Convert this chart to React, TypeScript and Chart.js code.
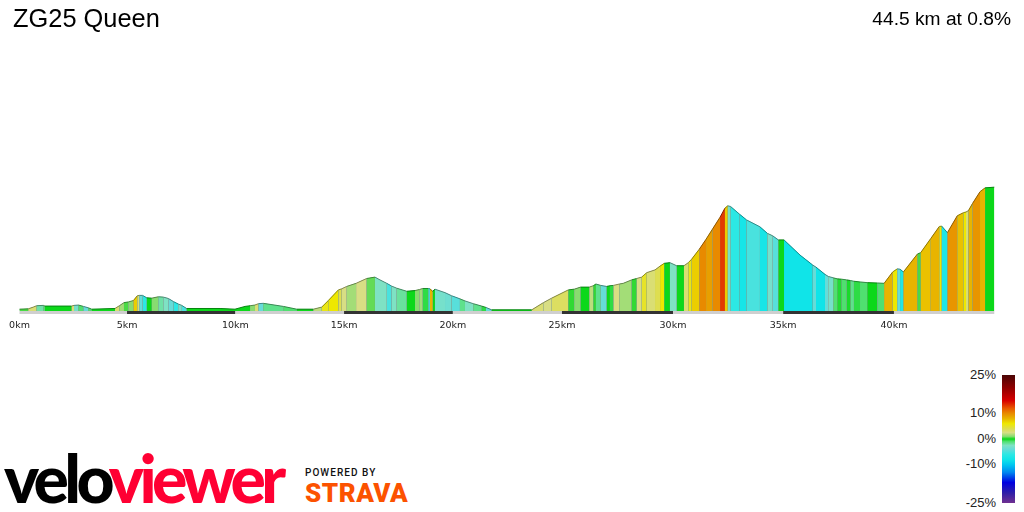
import React, { useEffect, useRef } from "react";
import { Chart, registerables } from "chart.js";

Chart.register(...registerables);

const titleText = "ZG25 Queen";
const summaryText = "44.5 km at 0.8%";

// Distance along the ride (km)
const distanceKm = [
  0, 0.4, 0.63, 0.78, 1.09, 1.16, 2.38, 2.49, 2.69, 2.92, 3.14, 3.3, 4.36, 4.56, 4.77, 4.97, 5.2, 5.38, 5.47, 5.62,
  5.81, 6.04, 6.34, 6.57, 6.8, 7.03, 7.25, 7.41, 7.63, 9.16, 9.84, 10.3, 10.53, 10.75, 10.91, 11.13, 12.05, 12.66,
  13.42, 13.8, 14.1, 14.56, 14.71, 14.94, 15.37, 15.85, 16.23, 16.46, 16.77, 16.99, 17.22, 17.68, 18.06, 18.26, 18.41,
  18.67, 18.74, 18.87, 18.97, 19.43, 19.73, 20.11, 20.34, 20.72, 21.1, 21.3, 21.56, 23.39, 23.92, 24.3, 25.06, 25.33,
  25.62, 26.02, 26.2, 26.32, 26.54, 26.81, 26.96, 27.12, 27.39, 27.57, 27.95, 28.18, 28.41, 28.64, 29.02, 29.25, 29.44,
  29.7, 30.01, 30.34, 30.54, 30.69, 31.04, 31.35, 31.65, 31.99, 32.21, 32.34, 32.47, 32.87, 33.2, 33.81, 34.15, 34.39,
  34.65, 34.91, 35.64, 36.22, 36.37, 36.78, 36.93, 37.16, 37.34, 37.54, 37.77, 37.95, 38.1, 38.38, 38.71, 39.17, 39.48,
  39.87, 40.08, 40.21, 40.36, 41.0, 41.15, 41.61, 42.0, 42.11, 42.37, 42.82, 43.1, 43.22, 43.33, 43.52, 43.86, 44.09,
  44.51,
];

// Height above the lowest point (m)
const elevationM = [
  5, 6, 11, 15, 16, 14, 14, 16, 17, 13, 9, 5, 7, 15, 24, 26, 30, 44, 45, 45, 38, 37, 41, 40, 36, 27, 20, 16, 7, 7, 5,
  13, 15, 17, 21, 22, 13, 5, 5, 11, 30, 61, 64, 71, 80, 94, 98, 90, 80, 72, 66, 57, 59, 62, 65, 65, 64, 57, 63, 53, 44,
  35, 29, 21, 14, 10, 3, 3, 24, 37, 61, 63, 69, 69, 73, 78, 74, 71, 73, 74, 78, 80, 90, 94, 98, 111, 119, 130, 138, 140,
  131, 131, 140, 150, 179, 208, 238, 272, 298, 305, 303, 281, 264, 244, 225, 218, 206, 206, 162, 133, 127, 106, 100, 96,
  93, 92, 90, 88, 86, 84, 82, 81, 80, 113, 122, 121, 113, 165, 169, 210, 245, 246, 227, 276, 285, 287, 291, 312, 346,
  357, 359,
];

// Gradient (%) of the stretch that ends at each point
const gradePct = [
  0, 0.5, 3, 3, -2, -1, 0, 3, -3, -1, -4, -1, 0, 3, 1.5, 0.5, 1, 7, 3, -4, -6, 0, 1, -2, -2.5, -4, -6, -3, -5, 0, 0, 0,
  0, 1, 3, -4, -1.5, -1, 0, 2, 5.5, 6, 4, 2.5, 1.5, 2.5, 0.7, -2.5, -2.5, -5, -2.5, -1.8, 0, 1, 1.5, -0.5, -6, 8, 0, -3,
  -3.5, -4.5, -1.5, -2.5, -1.5, -0.5, -4, 0, 3, 2.5, 3.5, 0.3, 1, 0, 2, 0.3, -1.5, -4, 0, -0.5, 2.5, 1.5, 1.5, 0.3, 2.5,
  5, 3, 4, 6, 0, -2.5, 0, 3, 5.5, 7, 10, 9, 10, 13, 7, -3, -6, -7.5, -5, -7.5, -3, -4.5, 0, -8, -8, -4, -8, -4, -3, -1,
  -0.3, -1, -0.2, -1.5, -0.5, -1, 0, -1, 8, 6, -4, -7, 8, 0.5, 7.5, 8, 6, -7, 9.5, 7.5, 6, 3, 8, 9.5, 8, 0,
];

const tickLabels = ["0km", "5km", "10km", "15km", "20km", "25km", "30km", "35km", "40km"];
const tickKm = [0, 4.91, 9.86, 14.82, 19.79, 24.77, 29.84, 34.87, 39.93];
const rideEndKm = 44.51;

const scaleGrades = [25, 20, 15, 12, 10, 8, 6, 4, 2.5, 1, 0, -1, -2.5, -4, -6, -8, -10, -13, -17, -21, -25];
const scaleColors = [
  "#4a0505", "#8f0000", "#d80000", "#e85800", "#e88a00", "#e8b400", "#eee800", "#dede50", "#d8de84", "#88dc70", "#0cd81a",
  "#50e070", "#7ee2c4", "#66dcd8", "#2ce8e4", "#10e4e8", "#00c8f0", "#0088f0", "#0000e0", "#2e1ea8", "#703090",
];
const legendLabels = ["25%", "10%", "0%", "-10%", "-25%"];
const legendGrades = [25, 10, 0, -10, -25];

function hexRgb(h: string) {
  return [1, 3, 5].map((i) => parseInt(h.slice(i, i + 2), 16));
}
function gradeColor(g: number, dim = 1) {
  let i = scaleGrades.findIndex((s) => g >= s);
  if (i < 0) i = scaleGrades.length - 1;
  if (i === 0) i = 1;
  const hi = scaleGrades[i - 1];
  const lo = scaleGrades[i];
  const t = Math.min(1, Math.max(0, (g - lo) / (hi - lo)));
  const a = hexRgb(scaleColors[i]);
  const b = hexRgb(scaleColors[i - 1]);
  const c = a.map((v, k) => Math.round((v + (b[k] - v) * t) * dim));
  return `rgb(${c[0]},${c[1]},${c[2]})`;
}

const legendTop = 375;
const legendHeight = 127.7;
const legendGradient = `linear-gradient(to bottom, ${scaleGrades
  .map((g, i) => `${scaleColors[i]} ${(((25 - g) / 50) * 100).toFixed(1)}%`)
  .join(", ")})`;

const sans = '"Liberation Sans", Arial, sans-serif';
const abs = (o: React.CSSProperties): React.CSSProperties => ({ position: "absolute", whiteSpace: "nowrap", ...o });

export default function App() {
  const ref = useRef<HTMLCanvasElement>(null);
  useEffect(() => {
    const stripKm = [...tickKm, rideEndKm];
    const profile = distanceKm.map((x, i) => ({ x, y: elevationM[i] }));
    const chart = new Chart(ref.current!, {
      type: "line",
      data: {
        datasets: [
          {
            label: "Elevation",
            data: profile,
            fill: "origin",
            tension: 0,
            pointRadius: 0,
            borderWidth: 1,
            segment: {
              backgroundColor: (c: any) => gradeColor(gradePct[c.p1DataIndex]),
              borderColor: (c: any) => gradeColor(gradePct[c.p1DataIndex], 0.62),
            },
          },
          {
            label: "Elevation backing",
            data: profile,
            fill: "origin",
            tension: 0,
            pointRadius: 0,
            borderWidth: 0,
            backgroundColor: "#7f9a8c",
          },
          {
            label: "Distance bands",
            data: stripKm.map((x) => ({ x, y: -4.4 })),
            fill: false,
            pointRadius: 0,
            borderWidth: 3,
            borderCapStyle: "butt",
            segment: {
              borderColor: (c: any) => (c.p0DataIndex % 2 ? "#333333" : "#cfcfcf"),
            },
          },
        ],
      },
      options: {
        responsive: false,
        animation: false,
        devicePixelRatio: 1,
        layout: { padding: { left: 13, right: 13 } },
        plugins: {
          legend: { display: false },
          tooltip: { enabled: false },
          title: {
            display: true,
            text: titleText,
            align: "start",
            color: "#000",
            font: { family: sans, size: 25.4, weight: "normal", lineHeight: 1.2 },
            padding: { top: 5, bottom: 3.5 },
          },
        },
        scales: {
          x: {
            type: "linear",
            min: -6.5 / 21.9,
            max: (1011 - 19.5) / 21.9,
            border: { display: false },
            grid: { display: false, drawTicks: false },
            afterBuildTicks: (s: any) => {
              s.ticks = tickKm.map((value) => ({ value }));
            },
            afterFit: (s: any) => {
              s.paddingLeft = 0;
              s.paddingRight = 0;
              s.height = 26;
            },
            ticks: {
              autoSkip: false,
              maxRotation: 0,
              padding: 6,
              color: "#222",
              font: { family: '"DejaVu Sans"', size: 9.5 },
              callback: (_v: any, i: number) => tickLabels[i],
            },
          },
          y: { display: false, min: -9, max: 789 },
        },
      },
    } as any);
    return () => chart.destroy();
  }, []);

  return (
    <div style={{ position: "fixed", inset: 0, background: "#fff", overflow: "hidden" }}>
      <canvas ref={ref} width={1024} height={340} style={{ position: "absolute", left: 0, top: 0 }} />
      <div style={abs({ right: 13, top: 8, font: `19.2px ${sans}`, color: "#000" })}>{summaryText}</div>

      {legendLabels.map((t, i) => (
        <div
          key={t}
          style={abs({
            right: 28,
            top: legendTop + ((25 - legendGrades[i]) / 50) * legendHeight - 8,
            font: `13px/16px ${sans}`,
            color: "#222",
          })}
        >
          {t}
        </div>
      ))}
      <div style={abs({ left: 1002, top: legendTop, width: 13, height: legendHeight, background: legendGradient })} />

      <div style={abs({ left: 4, top: 439, font: '900 66px/78px Lato, sans-serif', letterSpacing: "-4.6px" })}>
        <span style={{ color: "#000" }}>velo</span>
        <span style={{ color: "#ff0033" }}>viewer</span>
      </div>
      <div style={abs({ left: 305, top: 467, font: '500 10px/12px Roboto, sans-serif', letterSpacing: "1.05px", color: "#111" })}>
        POWERED BY
      </div>
      <div style={abs({ left: 305, top: 478, font: '900 26px/30px Roboto, sans-serif', letterSpacing: "0.5px", color: "#fc5200" })}>
        STRAVA
      </div>
    </div>
  );
}
